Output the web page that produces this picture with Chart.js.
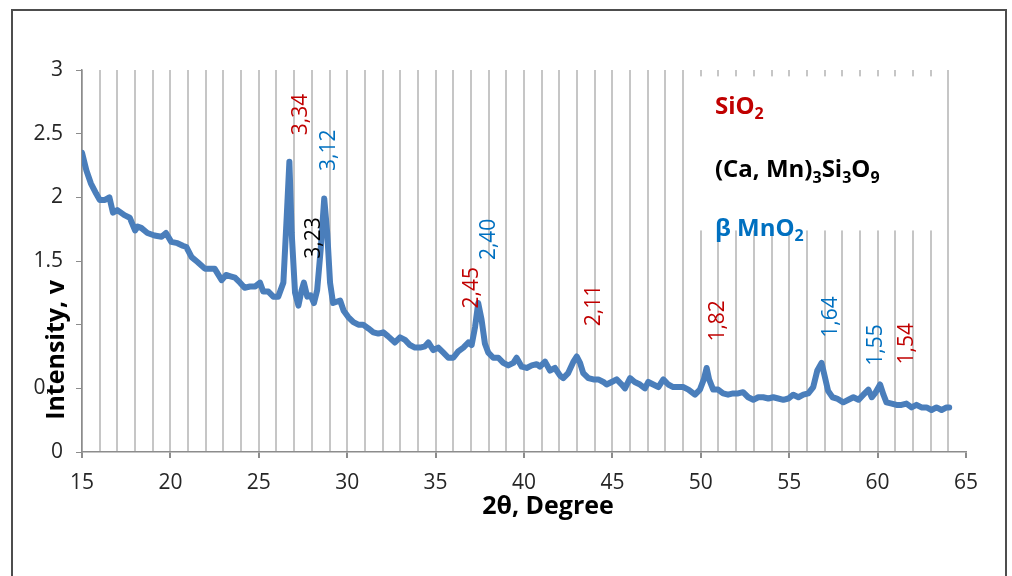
<!DOCTYPE html>
<html>
<head>
<meta charset="utf-8">
<script src="https://cdn.jsdelivr.net/npm/chart.js@4.4.0/dist/chart.umd.min.js"></script>
<style>
  html, body { margin: 0; padding: 0; background: #fff; }
  #wrap { position: relative; width: 1012px; height: 576px; overflow: hidden; }
  #xrdChart { position: absolute; left: 0; top: 0; }
  #frame { position: absolute; left: 11px; top: 9px; width: 992px; height: 640px; border: 2px solid #4d4d4d; pointer-events: none; }
</style>
</head>
<body>
<div id="wrap">
  <canvas id="xrdChart" width="1012" height="576"></canvas>
  <div id="frame"></div>
</div>
<script>
// 2-theta positions (degrees) and intensity (v)
const twoTheta = [
  15.0, 15.25, 15.5, 15.8, 16.0, 16.3, 16.55, 16.75, 17.0, 17.4, 17.7, 18.0, 18.15, 18.35, 18.7,
  19.1, 19.5, 19.75, 20.05, 20.4, 20.7, 20.9, 21.2, 21.55, 21.95, 22.2, 22.5, 22.9, 23.15, 23.4,
  23.65, 23.94, 24.2, 24.5, 24.8, 25.07, 25.25, 25.54, 25.82, 26.1, 26.39, 26.58, 26.73, 26.86, 27.05,
  27.24, 27.42, 27.55, 27.74, 27.93, 28.12, 28.3, 28.5, 28.7, 28.87, 29.03, 29.2, 29.4, 29.6, 29.8,
  30.06, 30.35, 30.63, 30.9, 31.2, 31.48, 31.76, 32.04, 32.3, 32.7, 32.99, 33.27, 33.55, 33.83, 34.12,
  34.4, 34.59, 34.87, 35.15, 35.44, 35.72, 36.0, 36.28, 36.57, 36.85, 37.04, 37.23, 37.41, 37.6, 37.79,
  37.98, 38.26, 38.55, 38.83, 39.11, 39.4, 39.58, 39.87, 40.15, 40.44, 40.72, 40.9, 41.19, 41.47, 41.75,
  42.04, 42.22, 42.5, 42.8, 42.98, 43.17, 43.35, 43.64, 43.92, 44.2, 44.49, 44.67, 44.96, 45.24, 45.53,
  45.71, 46.0, 46.26, 46.56, 46.84, 47.03, 47.31, 47.6, 47.88, 48.16, 48.44, 48.73, 49.0, 49.3, 49.67,
  49.95, 50.17, 50.33, 50.47, 50.7, 50.98, 51.26, 51.54, 51.83, 52.11, 52.39, 52.68, 52.97, 53.25, 53.53,
  53.82, 54.1, 54.38, 54.67, 54.95, 55.23, 55.52, 55.8, 56.08, 56.36, 56.59, 56.83, 57.0, 57.2, 57.45,
  57.7, 58.06, 58.35, 58.63, 58.92, 59.2, 59.48, 59.67, 59.85, 60.14, 60.33, 60.5, 60.8, 61.07, 61.35,
  61.63, 61.92, 62.2, 62.48, 62.77, 63.05, 63.33, 63.62, 63.9, 64.05
];
const intensity = [
  2.35, 2.21, 2.11, 2.03, 1.98, 1.98, 2.00, 1.88, 1.90, 1.86, 1.84, 1.74, 1.77, 1.76, 1.72,
  1.70, 1.69, 1.72, 1.65, 1.64, 1.62, 1.61, 1.53, 1.49, 1.44, 1.44, 1.44, 1.35, 1.39, 1.38,
  1.37, 1.33, 1.29, 1.30, 1.30, 1.33, 1.26, 1.26, 1.22, 1.22, 1.33, 1.85, 2.28, 1.72, 1.25,
  1.15, 1.27, 1.33, 1.22, 1.23, 1.17, 1.27, 1.59, 1.99, 1.72, 1.33, 1.17, 1.18, 1.19, 1.11,
  1.06, 1.02, 1.00, 1.00, 0.97, 0.94, 0.93, 0.94, 0.91, 0.86, 0.90, 0.88, 0.84, 0.82, 0.82,
  0.83, 0.86, 0.80, 0.82, 0.78, 0.74, 0.74, 0.79, 0.82, 0.86, 0.84, 0.98, 1.17, 1.04, 0.85,
  0.78, 0.74, 0.74, 0.70, 0.68, 0.70, 0.74, 0.67, 0.66, 0.68, 0.69, 0.67, 0.71, 0.64, 0.66,
  0.60, 0.58, 0.62, 0.71, 0.75, 0.70, 0.62, 0.58, 0.57, 0.57, 0.55, 0.53, 0.55, 0.57, 0.53,
  0.50, 0.58, 0.55, 0.53, 0.50, 0.55, 0.53, 0.51, 0.57, 0.53, 0.51, 0.51, 0.51, 0.49, 0.45,
  0.49, 0.57, 0.66, 0.57, 0.49, 0.49, 0.46, 0.45, 0.46, 0.46, 0.47, 0.43, 0.41, 0.43, 0.43,
  0.42, 0.43, 0.42, 0.41, 0.42, 0.45, 0.43, 0.45, 0.46, 0.51, 0.64, 0.70, 0.60, 0.48, 0.43,
  0.42, 0.39, 0.41, 0.43, 0.41, 0.45, 0.49, 0.43, 0.46, 0.53, 0.45, 0.39, 0.38, 0.37, 0.37,
  0.38, 0.35, 0.37, 0.35, 0.35, 0.33, 0.35, 0.33, 0.35, 0.35
];

// d-spacing labels over the peaks and the phase each belongs to
const peakLabels = ['3,34', '3,12', '3,23', '2,45', '2,40', '2,11', '1,82', '1,64', '1,55', '1,54'];
const peakPhase  = ['SiO2', 'MnO2', 'CaMn', 'SiO2', 'MnO2', 'SiO2', 'SiO2', 'MnO2', 'MnO2', 'SiO2'];
const phaseNames = ['SiO₂', '(Ca, Mn)₃Si₃O₉', 'β MnO₂'];
const phaseKeys  = ['SiO2', 'CaMn', 'MnO2'];

const xTickLabels = [15, 20, 25, 30, 35, 40, 45, 50, 55, 60, 65];
const yTickLabels = [0, 0.5, 1, 1.5, 2, 2.5, 3];

const phaseColor = { SiO2: '#c00000', CaMn: '#000000', MnO2: '#0070c0' };
const FONT = '"Open Sans", "DejaVu Sans", sans-serif';

// label centres in axis units (degree, v)
const peakLabelPos = [
  [27.39, 2.65], [28.97, 2.37], [28.15, 1.68], [37.06, 1.29], [38.02, 1.67],
  [43.96, 1.15], [50.97, 1.03], [57.36, 1.06], [59.91, 0.84], [61.66, 0.85]
];

function drawChem(ctx, text, x, y, size) {
  let cx = x;
  for (const ch of text) {
    const code = ch.codePointAt(0);
    if (code >= 0x2080 && code <= 0x2089) {
      const d = String.fromCharCode(48 + code - 0x2080);
      ctx.font = 'bold ' + Math.round(size * 0.66) + 'px ' + FONT;
      ctx.fillText(d, cx, y + size * 0.32);
      cx += ctx.measureText(d).width;
    } else {
      ctx.font = 'bold ' + size + 'px ' + FONT;
      ctx.fillText(ch, cx, y);
      cx += ctx.measureText(ch).width;
    }
  }
}

const xrdDecor = {
  id: 'xrdDecor',
  beforeDatasetsDraw(chart) {
    // white box of the phase key hides the grid behind it
    const { ctx, scales: { x, y } } = chart;
    const l = x.getPixelForValue(49.65), r = x.getPixelForValue(63.65);
    const t = y.getPixelForValue(2.95), b = y.getPixelForValue(1.74);
    ctx.save();
    ctx.fillStyle = '#ffffff';
    ctx.fillRect(l, t, r - l, b - t);
    ctx.restore();
  },
  afterDatasetsDraw(chart) {
    const { ctx, scales: { x, y } } = chart;
    ctx.save();
    ctx.textAlign = 'center';
    ctx.textBaseline = 'middle';
    ctx.font = '21px ' + FONT;
    peakLabels.forEach((lab, i) => {
      const px = x.getPixelForValue(peakLabelPos[i][0]);
      const py = y.getPixelForValue(peakLabelPos[i][1]);
      ctx.save();
      ctx.translate(px, py);
      ctx.rotate(-Math.PI / 2);
      ctx.fillStyle = phaseColor[peakPhase[i]];
      ctx.fillText(lab, 0, 0);
      ctx.restore();
    });

    // phase key
    ctx.textAlign = 'left';
    const keyRows = [2.71, 2.21, 1.75];
    phaseNames.forEach((name, i) => {
      ctx.fillStyle = phaseColor[phaseKeys[i]];
      drawChem(ctx, name, x.getPixelForValue(50.8), y.getPixelForValue(keyRows[i]), 24);
    });
    ctx.restore();
  },
  afterDraw(chart) {
    const { ctx } = chart;
    ctx.save();
    ctx.fillStyle = '#000';
    ctx.textBaseline = 'middle';
    ctx.textAlign = 'center';
    ctx.font = 'bold 25px ' + FONT;
    ctx.fillText('2θ, Degree', 548, 507);

    // y title sits on a white box over the tick labels, as in the original
    const yt = 'Intensity, v';
    const w = ctx.measureText(yt).width;
    ctx.translate(57, 350);
    ctx.rotate(-Math.PI / 2);
    ctx.fillStyle = '#fff';
    ctx.fillRect(-w / 2 - 2, -9, w + 4, 19);
    ctx.fillStyle = '#000';
    ctx.fillText(yt, 0, 0);
    ctx.restore();
  }
};

const points = twoTheta.map((t, i) => ({ x: t, y: intensity[i] }));

new Chart(document.getElementById('xrdChart'), {
  type: 'line',
  data: {
    datasets: [{
      data: points,
      borderColor: '#4a7ebb',
      borderWidth: 6,
      pointRadius: 0,
      tension: 0,
      borderJoinStyle: 'round',
      borderCapStyle: 'round'
    }]
  },
  options: {
    responsive: false,
    animation: false,
    devicePixelRatio: 1,
    layout: { padding: { top: 70, right: 46, left: 0, bottom: 0 } },
    plugins: { legend: { display: false }, tooltip: { enabled: false } },
    scales: {
      x: {
        type: 'linear',
        min: 15,
        max: 65,
        afterFit: (s) => { s.height = 124; },
        ticks: {
          stepSize: 1,
          autoSkip: false,
          maxRotation: 0,
          padding: 12,
          color: '#262626',
          font: { family: FONT, size: 21 },
          callback: (v) => (xTickLabels.includes(v) ? String(v) : '')
        },
        grid: {
          color: (c) => (c.tick && c.tick.value === 65 ? 'rgba(0,0,0,0)' : '#c6c6c6'),
          lineWidth: 2,
          tickLength: 6,
          tickColor: (c) => (c.tick && xTickLabels.includes(c.tick.value) ? '#8c8c8c' : 'rgba(0,0,0,0)')
        },
        border: { display: true, color: '#8c8c8c', width: 1.5 }
      },
      y: {
        min: 0,
        max: 3,
        afterFit: (s) => { s.width = 82; },
        afterBuildTicks: (s) => { s.ticks = yTickLabels.map((v) => ({ value: v })); },
        ticks: {
          padding: 13,
          color: '#262626',
          font: { family: FONT, size: 21 },
          callback: (v) => String(v)
        },
        grid: {
          drawOnChartArea: false,
          tickLength: 6,
          tickColor: '#8c8c8c'
        },
        border: { display: true, color: '#8c8c8c', width: 1.5 }
      }
    }
  },
  plugins: [xrdDecor]
});
</script>
</body>
</html>
